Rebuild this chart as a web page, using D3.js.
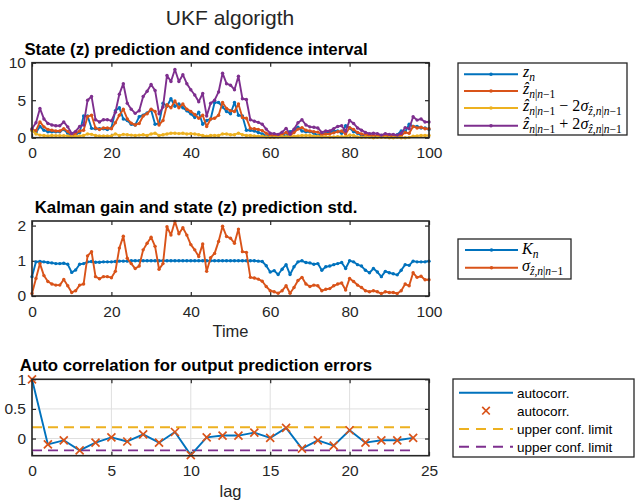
<!DOCTYPE html>
<html><head><meta charset="utf-8">
<script src="https://cdn.jsdelivr.net/npm/d3@7"></script>
<style>
body{margin:0;background:#fff}
svg{display:block}
</style>
</head><body><svg id="c" width="635" height="501"></svg>
<script>
// ---------------- data ----------------
const timeSteps = d3.range(0, 101);
const zN = [1.0,0.7,1.5,1.0,0.8,0.8,0.8,0.8,1.1,0.6,0.2,0.4,0.7,2.9,2.9,1.25,1.2,1.2,1.2,1.1,1.3,3.6,4.0,2.5,2.3,1.8,1.7,2.8,3.0,3.3,3.7,1.8,1.9,4.6,4.2,5.2,4.2,4.5,4.0,3.6,3.2,2.7,3.4,1.8,2.3,2.5,4.7,4.7,4.1,3.5,3.2,4.7,3.0,2.9,1.0,1.0,0.9,0.7,0.5,0.2,0.2,0.3,0.3,0.5,0.2,0.8,1.0,1.4,0.9,0.8,0.8,0.6,0.3,0.5,0.6,0.7,0.9,0.9,0.6,1.6,1.3,0.8,0.6,0.3,0.3,0.4,0.2,0.2,0.3,0.2,0.3,0.2,0.4,0.9,0.8,1.8,1.5,1.5,1.3,1.3,1.1];
const zPred = [1.1,0.95,2.1,1.45,1.1,1.0,0.9,0.9,1.2,0.85,0.33,0.55,0.9,1.0,2.8,3.0,1.3,1.1,1.3,1.3,1.2,2.0,3.0,3.8,2.5,1.95,1.7,1.9,2.9,3.2,3.8,3.5,1.7,2.3,4.4,4.0,4.9,4.0,4.5,3.8,3.5,3.1,2.6,3.0,1.5,2.5,2.6,3.0,4.7,3.9,3.6,3.5,4.5,2.7,2.6,1.25,1.2,1.1,0.95,0.6,0.32,0.3,0.3,0.45,0.7,0.3,0.7,1.15,1.35,1.0,0.9,0.8,0.75,0.4,0.5,0.5,0.65,0.8,0.9,0.5,1.35,1.1,0.7,0.5,0.4,0.3,0.3,0.3,0.2,0.3,0.22,0.22,0.2,0.3,0.7,0.6,1.5,1.3,1.4,1.2,1.2];
const zLower = [0.95,0.5,0.35,0.3,0.25,0.3,0.28,0.28,0.28,0.25,0.12,0.2,0.25,0.3,0.5,0.45,0.3,0.25,0.25,0.25,0.25,0.5,0.3,0.45,0.4,0.35,0.3,0.35,0.4,0.3,0.5,0.6,0.3,0.4,0.5,0.6,0.6,0.55,0.6,0.5,0.55,0.5,0.4,0.3,0.2,0.3,0.3,0.3,0.5,0.5,0.4,0.4,0.6,0.4,0.3,0.3,0.25,0.2,0.2,0.1,0.05,0.05,0.1,0.15,0.15,0.12,0.2,0.25,0.3,0.3,0.3,0.2,0.2,0.1,0.15,0.1,0.1,0.15,0.15,0.15,0.35,0.3,0.1,0.05,0.1,0.05,0.0,0.05,0.05,0.05,0.0,0.0,0.05,0.0,0.0,0.05,0.2,0.25,0.3,0.3,0.3];
const zUpper = [1.2,2.0,3.9,2.5,1.9,1.7,1.6,1.6,2.1,1.45,0.55,0.85,1.5,1.7,5.0,5.5,2.4,2.1,2.4,2.4,2.25,3.4,5.8,7.2,4.6,3.8,3.25,3.6,5.5,6.2,7.1,6.3,3.2,4.1,8.3,7.5,9.1,7.5,8.4,7.2,6.4,5.7,4.8,5.9,2.9,4.6,5.0,6.1,8.6,7.2,7.0,6.4,8.2,5.2,5.1,2.4,2.2,2.05,1.8,1.15,0.6,0.55,0.45,0.75,1.25,0.45,1.15,2.0,2.4,1.7,1.45,1.4,1.3,0.7,0.9,0.9,1.2,1.5,1.6,0.85,2.3,1.9,1.3,1.0,0.7,0.55,0.6,0.55,0.35,0.55,0.45,0.45,0.35,0.6,1.35,1.2,2.8,2.35,2.5,2.1,2.1];
const gainK = [0.55,0.97,0.98,0.97,0.95,0.94,0.92,0.92,0.93,0.9,0.67,0.74,0.9,0.92,0.97,0.98,0.96,0.96,0.97,0.97,0.97,0.98,0.99,0.99,0.99,1.0,1.0,1.0,1.0,1.0,1.0,1.0,1.0,1.0,1.0,1.0,1.0,1.0,1.0,1.0,1.0,1.0,1.0,1.0,1.0,1.0,1.0,1.0,1.0,1.0,1.0,1.0,1.0,1.0,1.0,1.0,1.0,0.99,0.98,0.86,0.68,0.72,0.61,0.76,0.89,0.61,0.83,0.97,1.0,0.95,0.94,0.9,0.92,0.73,0.83,0.85,0.89,0.92,0.95,0.78,1.0,0.97,0.89,0.85,0.73,0.66,0.78,0.68,0.55,0.7,0.66,0.63,0.6,0.73,0.89,0.87,0.99,0.97,0.97,0.97,0.99];
const predStd = [0.07,0.5,0.92,0.58,0.41,0.34,0.31,0.31,0.47,0.29,0.1,0.15,0.31,0.34,1.14,1.26,0.55,0.49,0.55,0.55,0.52,0.7,1.36,1.7,1.07,0.92,0.78,0.85,1.31,1.5,1.67,1.41,0.76,0.92,1.97,1.73,2.12,1.77,1.94,1.73,1.46,1.31,1.12,1.48,0.7,1.09,1.21,1.55,1.98,1.69,1.64,1.5,1.9,1.26,1.24,0.53,0.51,0.48,0.42,0.27,0.15,0.12,0.08,0.15,0.29,0.08,0.24,0.44,0.53,0.34,0.27,0.31,0.29,0.15,0.19,0.21,0.29,0.34,0.37,0.17,0.5,0.41,0.31,0.24,0.15,0.12,0.15,0.12,0.07,0.12,0.1,0.1,0.07,0.15,0.34,0.29,0.66,0.53,0.56,0.46,0.46];
const lags = d3.range(0, 25);
const autoCorr = [1.0,-0.1,-0.03,-0.2,-0.07,0.02,-0.05,0.07,-0.07,0.11,-0.28,0.02,0.05,0.05,0.1,0.01,0.18,-0.17,-0.03,-0.12,0.14,-0.07,-0.03,-0.03,0.01];
const confUpper = 0.19, confLower = -0.2;

const ticksTime = [0,20,40,60,80,100];
const ticksY1 = [0,5,10];
const ticksY2 = [0,1,2];
const ticksLag = [0,5,10,15,20,25];
const ticksY3 = [0,0.5,1];

const C = {blue:"#0072BD", orange:"#D95319", yellow:"#EDB120", purple:"#7E2F8E", axis:"#262626"};
const SANS = '"Liberation Sans", Arial, Helvetica, sans-serif';
const SERIF = '"Liberation Serif", "Times New Roman", serif';

// ---------------- helpers ----------------
const svg = d3.select("#c");

function frame(x, y, xt, yt, fmtY, grid) {
  const [x0, x1] = x.range(), [y0, y1] = y.range();
  const g = svg.append("g");
  if (grid) {
    g.selectAll(".gx").data(xt).join("line")
      .attr("x1", d => x(d)).attr("x2", d => x(d)).attr("y1", y0).attr("y2", y1)
      .attr("stroke", "#dfdfdf").attr("stroke-width", 1);
    g.selectAll(".gy").data(yt).join("line")
      .attr("y1", d => y(d)).attr("y2", d => y(d)).attr("x1", x0).attr("x2", x1)
      .attr("stroke", "#dfdfdf").attr("stroke-width", 1);
  }
  const style = sel => {
    sel.select(".domain").remove();
    sel.selectAll("line").attr("stroke", C.axis).attr("stroke-width", 1.2);
    sel.selectAll("text").attr("fill", C.axis).style("font-family", SANS).style("font-size", "15.5px");
  };
  svg.append("g").attr("transform", `translate(0,${y0})`)
    .call(d3.axisBottom(x).tickValues(xt).tickSizeInner(-4).tickSizeOuter(0).tickPadding(9.8).tickFormat(d3.format("d"))).call(style);
  svg.append("g").attr("transform", `translate(0,${y1})`)
    .call(d3.axisTop(x).tickValues(xt).tickSizeInner(-4).tickSizeOuter(0).tickFormat("")).call(style);
  svg.append("g").attr("transform", `translate(${x0},0)`)
    .call(d3.axisLeft(y).tickValues(yt).tickSizeInner(-4).tickSizeOuter(0).tickPadding(6).tickFormat(fmtY)).call(style);
  svg.append("g").attr("transform", `translate(${x1},0)`)
    .call(d3.axisRight(y).tickValues(yt).tickSizeInner(-4).tickSizeOuter(0).tickFormat("")).call(style);
  return g;
}
function box(x, y) {
  const [x0, x1] = x.range(), [y0, y1] = y.range();
  svg.append("rect").attr("x", x0).attr("y", y1).attr("width", x1 - x0).attr("height", y0 - y1)
    .attr("fill", "none").attr("stroke", C.axis).attr("stroke-width", 1.6);
}
function series(x, y, xs, vals, color, dots) {
  const line = d3.line().x((d, i) => x(xs[i])).y(d => y(d));
  svg.append("path").datum(vals).attr("d", line).attr("fill", "none")
    .attr("stroke", color).attr("stroke-width", 1.9).attr("stroke-linejoin", "round");
  if (dots) {
    svg.append("g").selectAll("circle").data(vals).join("circle")
      .attr("cx", (d, i) => x(xs[i])).attr("cy", d => y(d)).attr("r", 1.7).attr("fill", color);
  }
}
function title(txt, cx, by) {
  svg.append("text").attr("x", cx).attr("y", by).attr("text-anchor", "middle")
    .style("font-family", SANS).style("font-size", "16.8px").style("font-weight", "bold")
    .attr("fill", "#000").text(txt);
}
function math(x, y, parts, size) {
  const t = svg.append("text").attr("x", x).attr("y", y)
    .style("font-family", SERIF).style("font-size", size + "px").attr("fill", "#000");
  let shift = 0;
  parts.forEach(([s, k]) => {
    const sub = k[0] === "s";
    const target = sub ? 4 : 0;
    t.append("tspan").attr("dy", target - shift)
      .style("font-size", (sub ? size * 0.72 : size) + "px")
      .style("font-style", k.endsWith("i") ? "italic" : "normal").text(s);
    shift = target;
  });
}
function legendBox(x0, y0, x1, y1) {
  svg.append("rect").attr("x", x0).attr("y", y0).attr("width", x1 - x0).attr("height", y1 - y0)
    .attr("fill", "#fff").attr("stroke", C.axis).attr("stroke-width", 1.3);
}
function legendLine(x0, x1, y, color, dot, dash) {
  svg.append("line").attr("x1", x0).attr("x2", x1).attr("y1", y).attr("y2", y)
    .attr("stroke", color).attr("stroke-width", 1.9).attr("stroke-dasharray", dash || null);
  if (dot) svg.append("circle").attr("cx", (x0 + x1) / 2).attr("cy", y).attr("r", 1.8).attr("fill", color);
}
function xMark(cx, cy, s) {
  svg.append("path").attr("d", `M${cx - s},${cy - s}L${cx + s},${cy + s}M${cx - s},${cy + s}L${cx + s},${cy - s}`)
    .attr("stroke", C.orange).attr("stroke-width", 1.7).attr("fill", "none");
}

// ---------------- main title ----------------
svg.append("text").attr("x", 230).attr("y", 25).attr("text-anchor", "middle")
  .style("font-family", SANS).style("font-size", "21px").attr("fill", C.axis).text("UKF algorigth");

// ---------------- plot 1 ----------------
const x1s = d3.scaleLinear().domain([0, 100]).range([32, 429]);
const y1s = d3.scaleLinear().domain([0, 10]).range([137.7, 62.7]);
frame(x1s, y1s, ticksTime, ticksY1, d3.format("d"), false);
series(x1s, y1s, timeSteps, zN, C.blue, true);
series(x1s, y1s, timeSteps, zPred, C.orange, true);
series(x1s, y1s, timeSteps, zLower, C.yellow, true);
series(x1s, y1s, timeSteps, zUpper, C.purple, true);
box(x1s, y1s);
title("State (z) prediction and confidence interval", 196, 54.5);

legendBox(458, 63, 627, 135);
const L1 = [74.3, 91, 108, 125.7];
[C.blue, C.orange, C.yellow, C.purple].forEach((c, i) => legendLine(464, 518, L1[i], c, true));
const subNN = [["n","si"],["|","sr"],["n","si"],["\u22121","sr"]];
math(523, L1[0] + 3, [["z","i"],["n","si"]], 16);
math(523, L1[1] + 3, [["\u1E91","i"], ...subNN], 16);
math(523, L1[2] + 3, [["\u1E91","i"], ...subNN, [" \u2212 2","r"], ["\u03C3","i"], ["\u1E91","si"], [",","sr"], ...subNN], 16);
math(523, L1[3] + 3, [["\u1E91","i"], ...subNN, [" + 2","r"], ["\u03C3","i"], ["\u1E91","si"], [",","sr"], ...subNN], 16);

// ---------------- plot 2 ----------------
const x2s = d3.scaleLinear().domain([0, 100]).range([32, 429]);
const y2s = d3.scaleLinear().domain([0, 2.13]).range([296, 221]);
frame(x2s, y2s, ticksTime, ticksY2, d3.format("d"), false);
series(x2s, y2s, timeSteps, gainK, C.blue, true);
series(x2s, y2s, timeSteps, predStd, C.orange, true);
box(x2s, y2s);
title("Kalman gain and state (z) prediction std.", 196, 213);
svg.append("text").attr("x", 230.5).attr("y", 337).attr("text-anchor", "middle")
  .style("font-family", SANS).style("font-size", "16.5px").attr("fill", C.axis).text("Time");

legendBox(458, 239, 571, 279);
legendLine(465, 518, 250, C.blue, true);
legendLine(465, 518, 267.7, C.orange, true);
math(522, 254, [["K","i"],["n","si"]], 16);
math(522, 271, [["\u03C3","i"], ["\u1E91","si"], [",","sr"], ...subNN], 16);

// ---------------- plot 3 ----------------
const x3s = d3.scaleLinear().domain([0, 25]).range([32, 429]);
const y3s = d3.scaleLinear().domain([-0.29, 1]).range([455.7, 379.3]);
frame(x3s, y3s, ticksLag, ticksY3, d => d === 0.5 ? "0.5" : d3.format("d")(d), true);
svg.append("line").attr("x1", x3s(lags[0])).attr("x2", x3s(lags[lags.length - 1]))
  .attr("y1", y3s(confUpper)).attr("y2", y3s(confUpper))
  .attr("stroke", C.yellow).attr("stroke-width", 1.8).attr("stroke-dasharray", "10,6");
svg.append("line").attr("x1", x3s(lags[0])).attr("x2", x3s(lags[lags.length - 1]))
  .attr("y1", y3s(confLower)).attr("y2", y3s(confLower))
  .attr("stroke", C.purple).attr("stroke-width", 1.8).attr("stroke-dasharray", "10,6");
series(x3s, y3s, lags, autoCorr, C.blue, false);
autoCorr.forEach((v, i) => xMark(x3s(lags[i]), y3s(v), 4));
box(x3s, y3s);
title("Auto correlation for output prediction errors", 196, 370.5);
svg.append("text").attr("x", 230.5).attr("y", 497).attr("text-anchor", "middle")
  .style("font-family", SANS).style("font-size", "16.5px").attr("fill", C.axis).text("lag");

legendBox(453, 379, 634, 457);
const L3 = [392.7, 410.7, 429, 446.7];
legendLine(459, 513, L3[0], C.blue, false);
xMark(486, L3[1], 3.8);
legendLine(459, 513, L3[2], C.yellow, false, "10,7");
legendLine(459, 513, L3[3], C.purple, false, "10,7");
["autocorr.", "autocorr.", "upper conf. limit", "upper conf. limit"].forEach((s, i) =>
  svg.append("text").attr("x", 517).attr("y", L3[i]).attr("dy", "0.36em")
    .style("font-family", SANS).style("font-size", "13.5px").attr("fill", "#000").text(s));
</script>
</body></html>
